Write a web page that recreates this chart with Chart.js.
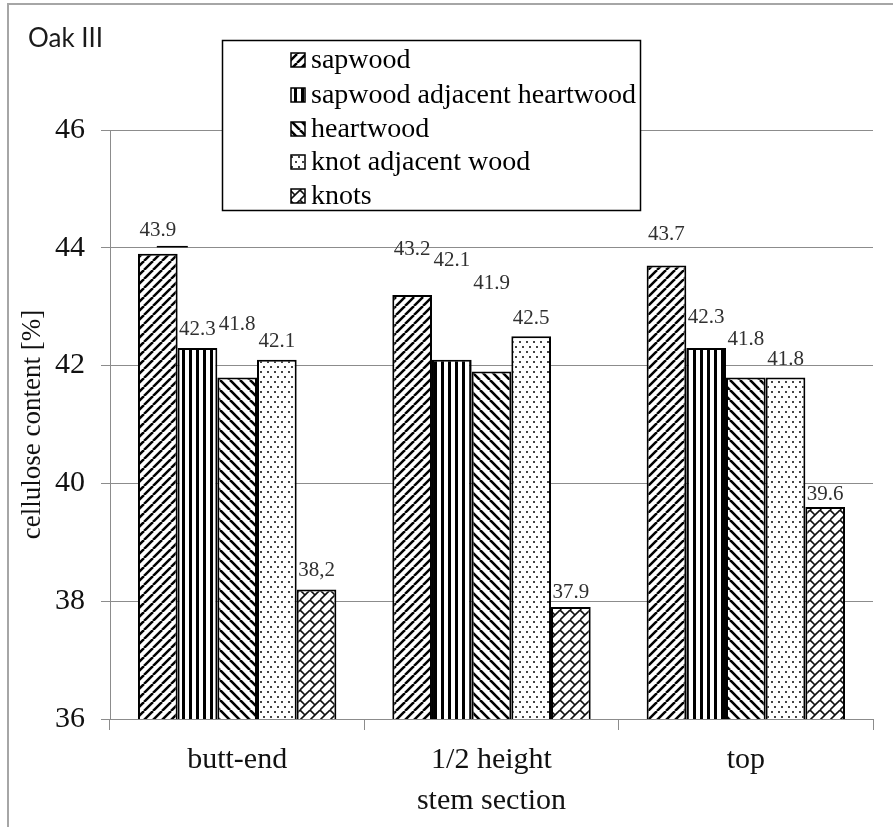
<!DOCTYPE html>
<html>
<head>
<meta charset="utf-8">
<title>Oak III – cellulose content</title>
<script src="https://cdn.jsdelivr.net/npm/chart.js@4.4.0/dist/chart.umd.min.js"></script>
<style>
  html, body { margin: 0; padding: 0; background: #fff; }
  canvas { display: block; }
</style>
</head>
<body>
<canvas id="chart" width="893" height="827"></canvas>
<script>
// Stem sections along the x axis
const sections = ['butt-end', '1/2 height', 'top'];

// Cellulose content [%] per wood zone
const sapwood             = [43.9, 43.2, 43.7];
const sapwoodAdjHeartwood = [42.3, 42.1, 42.3];
const heartwood           = [41.8, 41.9, 41.8];
const knotAdjacentWood    = [42.1, 42.5, 41.8];
const knots               = [38.2, 37.9, 39.6];

// Value axis ticks
const yTicks = [36, 38, 40, 42, 44, 46];

// Decimal mark used in each printed value label
const knotsDecimalMark = [',', '.', '.'];

const SERIF = '"Liberation Serif", "Times New Roman", serif';
const canvas = document.getElementById('chart');
const mainCtx = canvas.getContext('2d');

// ---- fill patterns -------------------------------------------------------
function makePattern(w, h, draw) {
  const c = document.createElement('canvas');
  c.width = w; c.height = h;
  const g = c.getContext('2d');
  g.fillStyle = '#fff';
  g.fillRect(0, 0, w, h);
  draw(g, w, h);
  return mainCtx.createPattern(c, 'repeat');
}

// wide upward diagonal
const patSapwood = makePattern(9, 9, (g, w) => {
  g.strokeStyle = '#000'; g.lineWidth = 2.5;
  for (let k = -1; k <= 1; k++) {
    g.beginPath(); g.moveTo(k * w, w); g.lineTo(k * w + w, 0); g.stroke();
  }
});
// dark vertical
const patVertical = makePattern(7, 7, (g) => {
  g.fillStyle = '#000'; g.fillRect(0, 0, 3, 7);
});
// wide downward diagonal
const patHeartwood = makePattern(10, 10, (g, w) => {
  g.strokeStyle = '#000'; g.lineWidth = 2.6;
  for (let k = -1; k <= 1; k++) {
    g.beginPath(); g.moveTo(k * w, 0); g.lineTo(k * w + w, w); g.stroke();
  }
});
// sparse dots
const patDots = makePattern(7, 10, (g) => {
  g.fillStyle = '#444';
  g.fillRect(1, 1, 2, 2);
  g.fillRect(4, 6, 2, 2);
});
// diagonal brick
const patBrick = makePattern(10, 10, (g, w) => {
  g.strokeStyle = '#111'; g.lineWidth = 1.6;
  for (let k = -1; k <= 1; k++) {
    g.beginPath(); g.moveTo(k * w, w); g.lineTo(k * w + w, 0); g.stroke();
  }
  g.beginPath(); g.moveTo(0, 0); g.lineTo(w / 2, w / 2); g.stroke();
  g.beginPath(); g.moveTo(w, w); g.lineTo(w + w / 2, w + w / 2); g.stroke();
});

// How far each value label sits above its bar top (px)
const labelLift = [
  [18, 40, 25],
  [13, 94, 25],
  [47, 82, 32],
  [13, 12, 12],
  [13, 9, 7]
];

const seriesDefs = [
  { label: 'sapwood', data: sapwood, fill: patSapwood },
  { label: 'sapwood adjacent heartwood', data: sapwoodAdjHeartwood, fill: patVertical },
  { label: 'heartwood', data: heartwood, fill: patHeartwood },
  { label: 'knot adjacent wood', data: knotAdjacentWood, fill: patDots },
  { label: 'knots', data: knots, fill: patBrick, decimalMark: knotsDecimalMark }
];

// ---- plugins ------------------------------------------------------------
const framePlugin = {
  id: 'frame',
  beforeDraw(chart) {
    const c = chart.ctx;
    c.save();
    c.fillStyle = '#fff';
    c.fillRect(0, 0, chart.width, chart.height);
    c.strokeStyle = '#a6a6a6';
    c.lineWidth = 2;
    c.strokeRect(8, 4, chart.width, chart.height + 20);
    c.restore();
  }
};

const captionPlugin = {
  id: 'caption',
  afterDraw(chart) {
    const c = chart.ctx;
    c.save();
    c.font = '26px Lato, "Open Sans", sans-serif';
    c.fillStyle = '#1a1a1a';
    c.textAlign = 'left';
    c.textBaseline = 'alphabetic';
    c.fillText('Oak III', 28, 47);
    c.restore();
  }
};

const valueLabelPlugin = {
  id: 'valueLabels',
  afterDatasetsDraw(chart) {
    const c = chart.ctx;
    c.save();
    c.font = '21px ' + SERIF;
    c.fillStyle = '#303030';
    c.textAlign = 'center';
    c.textBaseline = 'alphabetic';
    chart.data.datasets.forEach((ds, i) => {
      chart.getDatasetMeta(i).data.forEach((bar, j) => {
        let txt = ds.data[j].toFixed(1);
        if (ds.decimalMark) txt = txt.replace('.', ds.decimalMark[j]);
        const y = bar.y - labelLift[i][j];
        c.fillText(txt, bar.x, y);
        // the raised first label keeps a short leader under it
        if (i === 0 && j === 0) {
          c.save();
          c.strokeStyle = '#000';
          c.lineWidth = 1.5;
          c.beginPath();
          c.moveTo(bar.x - 1, y + 11);
          c.lineTo(bar.x + 30, y + 11);
          c.stroke();
          c.restore();
        }
      });
    });
    c.restore();
  }
};

const legendBoxPlugin = {
  id: 'legendBox',
  afterDraw(chart) {
    const c = chart.ctx;
    const box = { x: 222, y: 40, w: 418, h: 170 };
    const rowY = [60, 95, 129, 162, 196];
    c.save();
    c.fillStyle = '#fff';
    c.fillRect(box.x, box.y, box.w, box.h);
    c.strokeStyle = '#000';
    c.lineWidth = 1.5;
    c.strokeRect(box.x + 0.5, box.y + 0.5, box.w, box.h);
    c.font = '28px ' + SERIF;
    c.textAlign = 'left';
    c.textBaseline = 'middle';
    chart.data.datasets.forEach((ds, i) => {
      const y = rowY[i];
      c.fillStyle = ds.backgroundColor;
      c.fillRect(291, y - 7, 14, 14);
      c.strokeStyle = '#000';
      c.lineWidth = 1.5;
      c.strokeRect(291, y - 7, 14, 14);
      c.fillStyle = '#000';
      c.fillText(ds.label, 311, y + 1);
    });
    c.restore();
  }
};

// ---- chart --------------------------------------------------------------
function buildChart() {
  new Chart(mainCtx, {
    type: 'bar',
    data: {
      labels: sections,
      datasets: seriesDefs.map(s => ({
        label: s.label,
        data: s.data,
        backgroundColor: s.fill,
        borderColor: '#000',
        borderWidth: 2,
        borderSkipped: false,
        decimalMark: s.decimalMark
      }))
    },
    options: {
      responsive: false,
      animation: false,
      devicePixelRatio: 1,
      layout: { padding: { top: 130, right: 20, left: 0, bottom: 0 } },
      datasets: { bar: { categoryPercentage: 0.78, barPercentage: 1.0 } },
      plugins: {
        legend: { display: false },
        tooltip: { enabled: false },
        title: { display: false }
      },
      scales: {
        x: {
          grid: {
            drawOnChartArea: false,
            drawTicks: true,
            tickLength: 11,
            color: '#8c8c8c',
            offset: true
          },
          border: { color: '#8c8c8c', width: 1 },
          ticks: {
            font: { family: SERIF, size: 30 },
            color: '#111',
            padding: 12,
            maxRotation: 0
          },
          title: {
            display: true,
            text: 'stem section',
            font: { family: SERIF, size: 30 },
            color: '#111',
            padding: { top: 0, bottom: 8 }
          },
          afterFit(scale) { scale.height = 108; }
        },
        y: {
          min: 36,
          max: 46,
          afterBuildTicks(scale) { scale.ticks = yTicks.map(v => ({ value: v })); },
          grid: { color: '#8c8c8c', tickLength: 9, lineWidth: 1 },
          border: { color: '#8c8c8c', width: 1 },
          ticks: {
            font: { family: SERIF, size: 30 },
            color: '#111',
            padding: 16
          },
          title: {
            display: true,
            text: 'cellulose content [%]',
            font: { family: SERIF, size: 27 },
            color: '#111',
            padding: { top: 17, bottom: 0 }
          },
          afterFit(scale) { scale.width = 110; }
        }
      }
    },
    plugins: [framePlugin, valueLabelPlugin, legendBoxPlugin, captionPlugin]
  });
}

// make sure the faces are ready before the first paint
const fontLoads = ['21px', '27px', '30px'].map(s => document.fonts.load(s + ' "Liberation Serif"'))
  .concat([document.fonts.load('26px Lato')]);
Promise.all(fontLoads).then(buildChart, buildChart);
</script>
</body>
</html>
